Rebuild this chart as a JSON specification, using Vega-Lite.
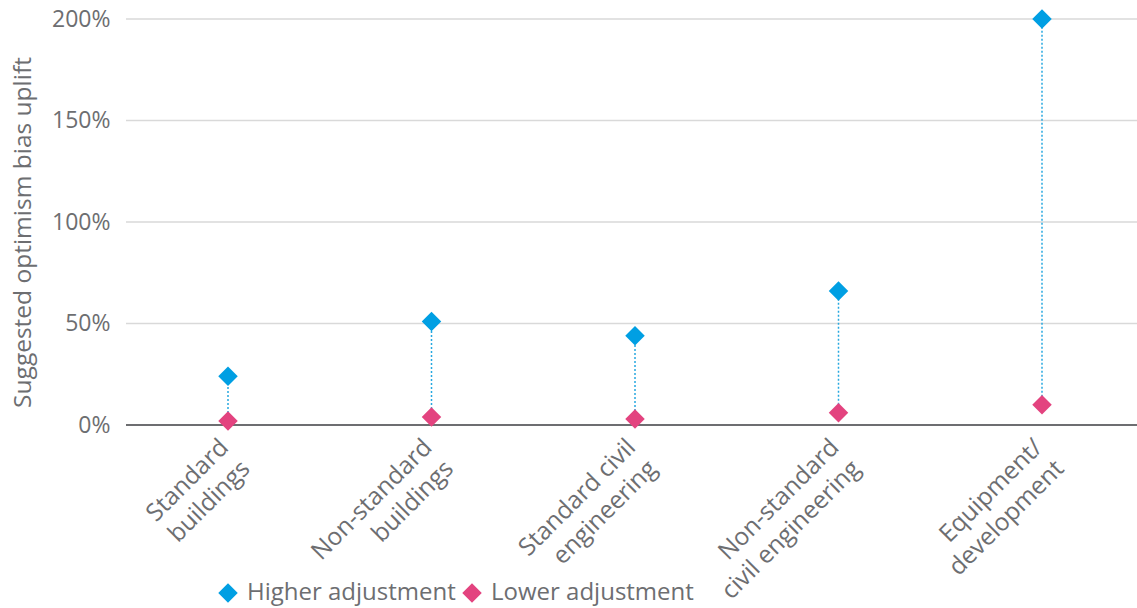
{
  "$schema": "https://vega.github.io/schema/vega-lite/v6.json",
  "width": 1011,
  "height": 406,
  "autosize": "none",
  "padding": {"left": 126, "top": 19, "right": 0, "bottom": 183},
  "background": "white",
  "config": {
    "font": "Open Sans",
    "view": {"stroke": null},
    "axis": {"labelFont": "Open Sans", "titleFont": "Open Sans", "labelColor": "#6d6e71", "titleColor": "#6d6e71"}
  },
  "data": {
    "values": [
      {"category": "Standard|buildings", "Higher adjustment": 0.24, "Lower adjustment": 0.02},
      {"category": "Non-standard|buildings", "Higher adjustment": 0.51, "Lower adjustment": 0.04},
      {"category": "Standard civil|engineering", "Higher adjustment": 0.44, "Lower adjustment": 0.03},
      {"category": "Non-standard|civil engineering", "Higher adjustment": 0.66, "Lower adjustment": 0.06},
      {"category": "Equipment/|development", "Higher adjustment": 2.0, "Lower adjustment": 0.10}
    ]
  },
  "encoding": {
    "x": {
      "field": "category",
      "type": "nominal",
      "sort": null,
      "scale": {"type": "point", "range": [102, 916], "padding": 0},
      "axis": {
        "title": null,
        "labelExpr": "split(datum.label, '|')",
        "labelAngle": -45,
        "labelAlign": "right",
        "labelBaseline": "top",
        "labelFontSize": 24.5,
        "labelPadding": 10,
        "labelOffset": -12,
        "labelLineHeight": 30,
        "labelLimit": 0,
        "ticks": false,
        "grid": false,
        "domain": false
      }
    }
  },
  "layer": [
    {
      "mark": {"type": "rule", "color": "#d9d9d9", "strokeWidth": 1.5},
      "data": {"values": [{"v": 0.5}, {"v": 1.0}, {"v": 1.5}, {"v": 2.0}]},
      "encoding": {"x": null, "y": {"field": "v", "type": "quantitative", "scale": {"domain": [0, 2]}}}
    },
    {
      "mark": {"type": "rule", "color": "#6d6e71", "strokeWidth": 2},
      "data": {"values": [{"v": 0}]},
      "encoding": {"x": null, "y": {"field": "v", "type": "quantitative"}}
    },
    {
      "mark": {"type": "rule", "color": "#27a8e0", "strokeWidth": 1.5, "strokeDash": [2, 2]},
      "encoding": {
        "y": {"field": "Lower adjustment", "type": "quantitative"},
        "y2": {"field": "Higher adjustment"}
      }
    },
    {
      "transform": [{"fold": ["Higher adjustment", "Lower adjustment"], "as": ["series", "value"]}],
      "mark": {"type": "point", "shape": "diamond", "filled": true, "opacity": 1, "size": 380},
      "encoding": {
        "y": {
          "field": "value",
          "type": "quantitative",
          "scale": {"domain": [0, 2]},
          "axis": {
            "title": "Suggested optimism bias uplift",
            "titleFontSize": 24.5,
            "titleFontWeight": "normal",
            "titlePadding": 16,
            "titleY": 213,
            "format": ".0%",
            "values": [0, 0.5, 1, 1.5, 2],
            "labelFontSize": 23,
            "labelPadding": 16,
            "ticks": false,
            "domain": false,
            "grid": false
          }
        },
        "color": {
          "field": "series",
          "type": "nominal",
          "scale": {"domain": ["Higher adjustment", "Lower adjustment"], "range": ["#009fe3", "#e3437f"]},
          "legend": {
            "title": null,
            "orient": "none",
            "direction": "horizontal",
            "legendX": 90,
            "legendY": 562,
            "symbolType": "diamond",
            "symbolSize": 380,
            "symbolStrokeWidth": 0,
            "labelFont": "Open Sans",
            "labelFontSize": 24,
            "labelLimit": 0,
            "labelColor": "#6d6e71",
            "columnPadding": 4,
            "labelOffset": 7
          }
        }
      }
    }
  ]
}
